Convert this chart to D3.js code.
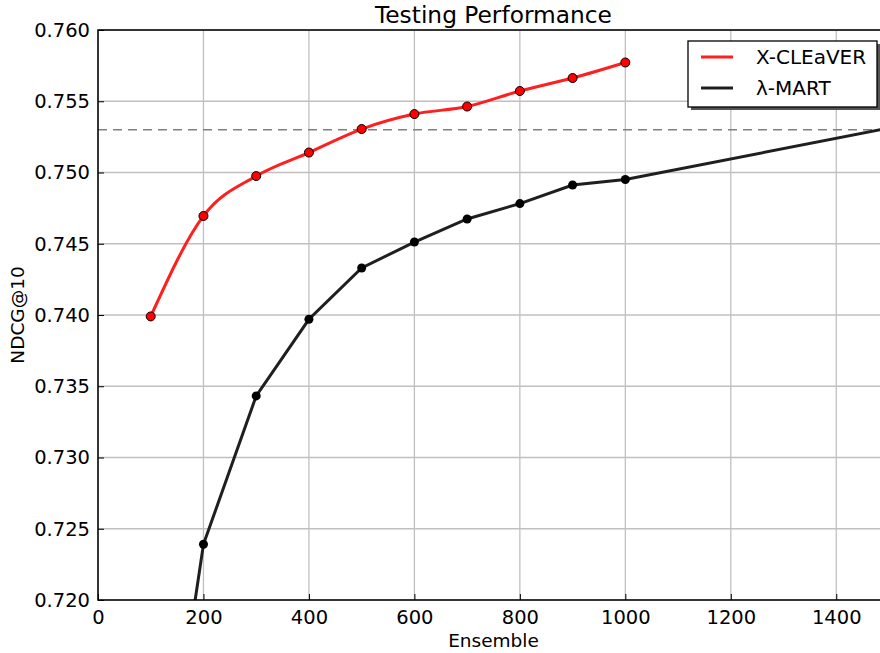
<!DOCTYPE html>
<html>
<head>
<meta charset="utf-8">
<script src="https://cdn.jsdelivr.net/npm/d3@7"></script>
<style>
  body { margin: 0; background: #fff; }
  svg { font-family: "DejaVu Sans", sans-serif; }
</style>
</head>
<body>
<svg></svg>
<script>
var WIDTH = 880;
var HEIGHT = 653;

var ensembleSizes = [100, 200, 300, 400, 500, 600, 700, 800, 900, 1000];
var cleaverValues = [0.7399, 0.74695, 0.74975, 0.7514, 0.75305, 0.7541, 0.75463, 0.75572, 0.75663, 0.75772];
var lambdaSizes = [100, 200, 300, 400, 500, 600, 700, 800, 900, 1000, 1500];
var lambdaValues = [0.6991, 0.72391, 0.73432, 0.7397, 0.7433, 0.74512, 0.74674, 0.74782, 0.74912, 0.74951, 0.75312];
var referenceValue = 0.753;
var xTicks = [0, 200, 400, 600, 800, 1000, 1200, 1400];
var yTicks = [0.720, 0.725, 0.730, 0.735, 0.740, 0.745, 0.750, 0.755, 0.760];
var seriesNames = ["X-CLEaVER", "\u03bb-MART"];

var margin = {left: 98, top: 30, right: 889, bottom: 600};

var svg = d3.select("svg")
    .attr("width", WIDTH)
    .attr("height", HEIGHT);

var x = d3.scaleLinear().domain([0, 1500]).range([margin.left, margin.right]);
var y = d3.scaleLinear().domain([0.720, 0.760]).range([margin.bottom, margin.top]);

svg.append("clipPath").attr("id", "clip")
    .append("rect")
    .attr("x", margin.left).attr("y", margin.top)
    .attr("width", margin.right - margin.left)
    .attr("height", margin.bottom - margin.top);

// grid
var grid = svg.append("g");
grid.selectAll(".vx").data(xTicks).enter().append("line")
    .attr("x1", function(d) { return x(d); }).attr("x2", function(d) { return x(d); })
    .attr("y1", margin.top).attr("y2", margin.bottom)
    .attr("stroke", "#c0c0c0").attr("stroke-width", 1.3);
grid.selectAll(".hy").data(yTicks).enter().append("line")
    .attr("x1", margin.left).attr("x2", margin.right)
    .attr("y1", function(d) { return y(d); }).attr("y2", function(d) { return y(d); })
    .attr("stroke", "#c0c0c0").attr("stroke-width", 1.3);

var plot = svg.append("g").attr("clip-path", "url(#clip)");

// reference dashed line
plot.append("line")
    .attr("x1", margin.left).attr("x2", margin.right)
    .attr("y1", y(referenceValue)).attr("y2", y(referenceValue))
    .attr("stroke", "#808080").attr("stroke-width", 1.5)
    .attr("stroke-dasharray", "9,6");

var lambdaData = lambdaSizes.map(function(s, i) { return [s, lambdaValues[i]]; });
var cleaverData = ensembleSizes.map(function(s, i) { return [s, cleaverValues[i]]; });

plot.append("path")
    .datum(lambdaData)
    .attr("fill", "none")
    .attr("stroke", "#1f1f1f")
    .attr("stroke-width", 3)
    .attr("d", d3.line().x(function(d) { return x(d[0]); }).y(function(d) { return y(d[1]); }));

plot.selectAll(".lm").data(lambdaData).enter().append("circle")
    .attr("cx", function(d) { return x(d[0]); })
    .attr("cy", function(d) { return y(d[1]); })
    .attr("r", 4.5)
    .attr("fill", "#000");

plot.append("path")
    .datum(cleaverData)
    .attr("fill", "none")
    .attr("stroke", "#ff1f1f")
    .attr("stroke-width", 3)
    .attr("d", d3.line().curve(d3.curveMonotoneX)
        .x(function(d) { return x(d[0]); }).y(function(d) { return y(d[1]); }));

plot.selectAll(".cl").data(cleaverData).enter().append("circle")
    .attr("cx", function(d) { return x(d[0]); })
    .attr("cy", function(d) { return y(d[1]); })
    .attr("r", 4.5)
    .attr("fill", "#ff0000")
    .attr("stroke", "#000")
    .attr("stroke-width", 1);

// axes frame
svg.append("rect")
    .attr("x", margin.left).attr("y", margin.top)
    .attr("width", margin.right - margin.left)
    .attr("height", margin.bottom - margin.top)
    .attr("fill", "none").attr("stroke", "#000").attr("stroke-width", 1.5);

var xAxis = svg.append("g")
    .attr("transform", "translate(0," + margin.bottom + ")")
    .call(d3.axisBottom(x).tickValues(xTicks).tickSizeInner(-6).tickSizeOuter(0).tickPadding(10)
        .tickFormat(d3.format("d")));
var yAxis = svg.append("g")
    .attr("transform", "translate(" + margin.left + ",0)")
    .call(d3.axisLeft(y).tickValues(yTicks).tickSizeInner(-6).tickSizeOuter(0).tickPadding(8)
        .tickFormat(d3.format(".3f")));

[xAxis, yAxis].forEach(function(a) {
    a.select(".domain").remove();
    a.selectAll("line").attr("stroke", "#000").attr("stroke-width", 1);
    a.selectAll("text").attr("font-size", 19.5).attr("fill", "#000")
        .attr("font-family", "DejaVu Sans, sans-serif");
});
xAxis.selectAll("text").attr("dy", "0.71em");

svg.append("text")
    .attr("x", (margin.left + margin.right) / 2).attr("y", 23)
    .attr("text-anchor", "middle").attr("font-size", 23.3)
    .text("Testing Performance");

svg.append("text")
    .attr("x", (margin.left + margin.right) / 2).attr("y", 647)
    .attr("text-anchor", "middle").attr("font-size", 18.5)
    .text("Ensemble");

svg.append("text")
    .attr("transform", "translate(24," + ((margin.top + margin.bottom) / 2) + ") rotate(-90)")
    .attr("text-anchor", "middle").attr("font-size", 18.5)
    .text("NDCG@10");

// legend
var legend = svg.append("g");
legend.append("rect")
    .attr("x", 691).attr("y", 44).attr("width", 189).attr("height", 66)
    .attr("fill", "#555");
legend.append("rect")
    .attr("x", 688).attr("y", 41).attr("width", 189).attr("height", 66)
    .attr("fill", "#fff").attr("stroke", "#000").attr("stroke-width", 1.3);
var legendColors = ["#ff1f1f", "#1f1f1f"];
seriesNames.forEach(function(name, i) {
    var ly = 57 + i * 31;
    legend.append("line")
        .attr("x1", 701).attr("x2", 733).attr("y1", ly).attr("y2", ly)
        .attr("stroke", legendColors[i]).attr("stroke-width", 3);
    legend.append("text")
        .attr("x", 756).attr("y", ly).attr("dy", "0.35em")
        .attr("font-size", 20)
        .text(name);
});
</script>
</body>
</html>
